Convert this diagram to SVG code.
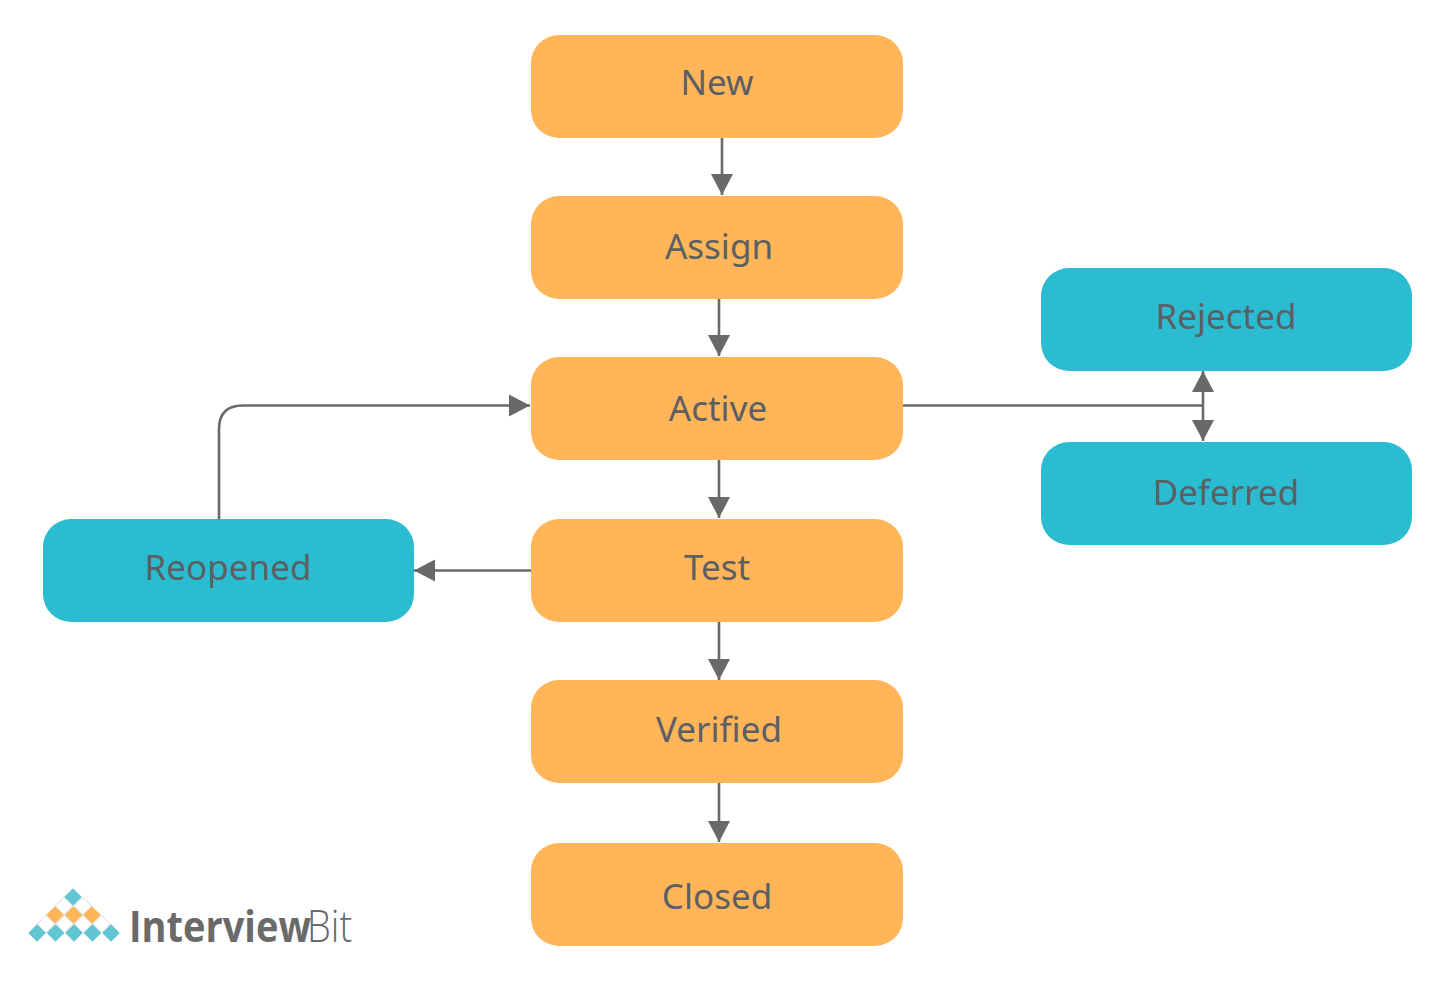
<svg xmlns="http://www.w3.org/2000/svg" width="1438" height="984" viewBox="0 0 1438 984">
<style>
.o{fill:#ffb558}.t{fill:#2bbcd2}
.l{font-family:"Noto Sans","Liberation Sans",sans-serif;font-size:35px;fill:#5c5f63;text-anchor:middle}
.c{fill:none;stroke:#696969;stroke-width:2.600}
.w{fill:#fff;stroke:#d8d8d8;stroke-width:1}.d1{fill:#62c5d3}.d2{fill:#ffb558}
.b{font-family:"Open Sans","Liberation Sans",sans-serif;font-size:38px;fill:#6a6a6a}
</style>
<defs>
<marker id="a" markerUnits="userSpaceOnUse" markerWidth="24" markerHeight="24" refX="21" refY="12" orient="auto"><path d="M0 1L21 12L0 23Z" fill="#696969"/></marker>
<path id="dm" d="M0-8.800L8.800 0L0 8.800L-8.800 0Z"/>
</defs>
<rect width="1438" height="984" fill="#fff"/>
<g id="connectors">
<path class="c" d="M722 138V195" marker-end="url(#a)"/>
<path class="c" d="M719 299V356" marker-end="url(#a)"/>
<path class="c" d="M719 460V518" marker-end="url(#a)"/>
<path class="c" d="M719 622V680" marker-end="url(#a)"/>
<path class="c" d="M719 783V842" marker-end="url(#a)"/>
<path class="c" d="M531 570.500H414" marker-end="url(#a)"/>
<path class="c" d="M219 519V429Q219 405.500 243 405.500H530" marker-end="url(#a)"/>
<path class="c" d="M903 405.500H1203"/>
<path class="c" d="M1203 405V371" marker-end="url(#a)"/>
<path class="c" d="M1203 405V441" marker-end="url(#a)"/>
</g>
<g id="new"><rect class="o" x="531" y="35" width="372" height="103" rx="28"/><text class="l" x="717" y="95">New</text></g>
<g id="assign"><rect class="o" x="531" y="196" width="372" height="103" rx="28"/><text class="l" x="719" y="259">Assign</text></g>
<g id="active"><rect class="o" x="531" y="357" width="372" height="103" rx="28"/><text class="l" x="718" y="421">Active</text></g>
<g id="test"><rect class="o" x="531" y="519" width="372" height="103" rx="28"/><text class="l" x="717" y="580">Test</text></g>
<g id="verified"><rect class="o" x="531" y="680" width="372" height="103" rx="28"/><text class="l" x="719" y="742">Verified</text></g>
<g id="closed"><rect class="o" x="531" y="843" width="372" height="103" rx="28"/><text class="l" x="717" y="909">Closed</text></g>
<g id="reopened"><rect class="t" x="43" y="519" width="371" height="103" rx="28"/><text class="l" x="228" y="580">Reopened</text></g>
<g id="rejected"><rect class="t" x="1041" y="268" width="371" height="103" rx="28"/><text class="l" x="1226" y="329">Rejected</text></g>
<g id="deferred"><rect class="t" x="1041" y="442" width="371" height="103" rx="28"/><text class="l" x="1226" y="505">Deferred</text></g>
<g id="logo">
<use href="#dm" class="d1" x="73" y="897"/>
<use href="#dm" class="w" x="64" y="906"/><use href="#dm" class="w" x="83" y="906"/>
<use href="#dm" class="d2" x="55" y="915"/><use href="#dm" class="d2" x="73.500" y="915"/><use href="#dm" class="d2" x="92" y="915"/>
<use href="#dm" class="w" x="46" y="924"/><use href="#dm" class="w" x="64.500" y="924"/><use href="#dm" class="w" x="83" y="924"/><use href="#dm" class="w" x="101.500" y="924"/>
<use href="#dm" class="d1" x="37" y="933"/><use href="#dm" class="d1" x="55.500" y="933"/><use href="#dm" class="d1" x="74" y="933"/><use href="#dm" class="d1" x="92.500" y="933"/><use href="#dm" class="d1" x="111" y="933"/>
<text class="b" transform="translate(129 942) scale(1 1.150)" font-weight="700">Interview</text>
<text class="b" transform="translate(307 942) scale(1 1.150)" font-weight="300">Bit</text>
</g>
</svg>
